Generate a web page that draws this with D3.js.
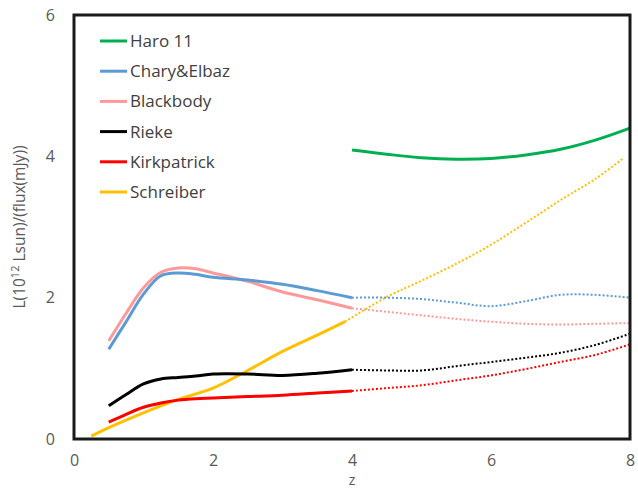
<!DOCTYPE html>
<html>
<head>
<meta charset="utf-8">
<script src="https://cdn.jsdelivr.net/npm/d3@7"></script>
<style>
  html, body { margin: 0; padding: 0; background: #fff; }
  svg { display: block; font-family: "Open Sans", "Liberation Sans", sans-serif; }
</style>
</head>
<body>
<svg id="chart" width="638" height="489"></svg>
<script>
// ---- Data ----
const seriesNames = ["Haro 11", "Chary&Elbaz", "Blackbody", "Rieke", "Kirkpatrick", "Schreiber"];
const seriesColors = ["#00B050", "#5B9BD5", "#FF9999", "#000000", "#FF0000", "#FFC000"];

const zHaro = [4, 4.5, 5, 5.5, 6, 6.5, 7, 7.5, 8];
const haro11 = [4.09, 4.03, 3.98, 3.96, 3.97, 4.02, 4.10, 4.23, 4.40];

const zSolid = [0.5, 0.75, 1, 1.25, 1.5, 1.75, 2, 2.5, 3, 3.5, 4];
const zDotted = [4, 4.5, 5, 5.5, 6, 6.5, 7, 7.5, 8];

const charySolid = [1.27, 1.66, 2.05, 2.31, 2.35, 2.33, 2.29, 2.25, 2.19, 2.10, 2.00];
const charyDotted = [2.00, 2.00, 1.98, 1.93, 1.88, 1.95, 2.04, 2.04, 2.00];

const bbSolid = [1.39, 1.78, 2.14, 2.36, 2.42, 2.41, 2.35, 2.23, 2.08, 1.97, 1.85];
const bbDotted = [1.85, 1.80, 1.75, 1.70, 1.66, 1.63, 1.62, 1.63, 1.64];

const riekeSolid = [0.47, 0.63, 0.78, 0.85, 0.87, 0.89, 0.92, 0.92, 0.90, 0.93, 0.98];
const riekeDotted = [0.98, 0.97, 0.97, 1.03, 1.09, 1.15, 1.22, 1.33, 1.49];

const kirkSolid = [0.24, 0.35, 0.45, 0.51, 0.55, 0.57, 0.58, 0.60, 0.62, 0.65, 0.68];
const kirkDotted = [0.68, 0.72, 0.76, 0.83, 0.90, 0.99, 1.09, 1.19, 1.34];

const zSchSolid = [0.25, 0.5, 1, 1.5, 2, 2.5, 3, 3.5, 3.9];
const schSolid = [0.04, 0.16, 0.37, 0.56, 0.72, 0.97, 1.24, 1.47, 1.66];
const zSchDotted = [3.9, 4.5, 5, 5.5, 6, 6.5, 7, 7.5, 7.9];
const schDotted = [1.66, 2.01, 2.24, 2.48, 2.75, 3.06, 3.38, 3.68, 3.97];

const xTicks = [0, 2, 4, 6, 8];
const yTicks = [0, 2, 4, 6];

// ---- Chart ----
const svg = d3.select("#chart");
const x = d3.scaleLinear().domain([0, 8]).range([74, 630]);
const y = d3.scaleLinear().domain([0, 6]).range([439, 15]);

const line = d3.line()
  .x(d => x(d[0]))
  .y(d => y(d[1]))
  .curve(d3.curveCatmullRom.alpha(0.5));

function zip(zs, vs) { return zs.map((z, i) => [z, vs[i]]); }

const segments = [
  { data: zip(zSchSolid, schSolid), color: seriesColors[5], dotted: false },
  { data: zip(zSchDotted, schDotted), color: seriesColors[5], dotted: true },
  { data: zip(zSolid, kirkSolid), color: seriesColors[4], dotted: false },
  { data: zip(zDotted, kirkDotted), color: seriesColors[4], dotted: true },
  { data: zip(zSolid, riekeSolid), color: seriesColors[3], dotted: false },
  { data: zip(zDotted, riekeDotted), color: seriesColors[3], dotted: true },
  { data: zip(zSolid, bbSolid), color: seriesColors[2], dotted: false },
  { data: zip(zDotted, bbDotted), color: seriesColors[2], dotted: true },
  { data: zip(zSolid, charySolid), color: seriesColors[1], dotted: false },
  { data: zip(zDotted, charyDotted), color: seriesColors[1], dotted: true },
  { data: zip(zHaro, haro11), color: seriesColors[0], dotted: false }
];

svg.append("g").selectAll("path")
  .data(segments)
  .join("path")
  .attr("d", d => line(d.data))
  .attr("fill", "none")
  .attr("stroke", d => d.color)
  .attr("stroke-width", d => d.dotted ? 2 : 3)
  .attr("stroke-dasharray", d => d.dotted ? "2,2" : null)
  .attr("stroke-linecap", "butt")
  .attr("stroke-linejoin", "round");

// Frame
svg.append("rect")
  .attr("x", x(0)).attr("y", y(6))
  .attr("width", x(8) - x(0)).attr("height", y(0) - y(6))
  .attr("fill", "none")
  .attr("stroke", "#1a1a1a")
  .attr("stroke-width", 3);

// Axes
const xAxis = svg.append("g")
  .attr("transform", `translate(0,${y(0)})`)
  .call(d3.axisBottom(x).tickValues(xTicks).tickSize(0).tickPadding(16).tickFormat(d3.format("d")));
xAxis.select(".domain").remove();
xAxis.selectAll("text").attr("fill", "#595959").style("font-size", "16px").style("font-family", "'Open Sans', sans-serif");

const yAxis = svg.append("g")
  .attr("transform", `translate(${x(0)},0)`)
  .call(d3.axisLeft(y).tickValues(yTicks).tickSize(0).tickPadding(19).tickFormat(d3.format("d")));
yAxis.select(".domain").remove();
yAxis.selectAll("text").attr("fill", "#595959").style("font-size", "16px").style("font-family", "'Open Sans', sans-serif");

// Axis titles
svg.append("text")
  .attr("x", (x(0) + x(8)) / 2).attr("y", 485)
  .attr("text-anchor", "middle")
  .attr("fill", "#595959")
  .style("font-size", "14px")
  .text("z");

const yTitle = svg.append("text")
  .attr("transform", `translate(25,${(y(0) + y(6)) / 2}) rotate(-90)`)
  .attr("text-anchor", "middle")
  .attr("fill", "#595959")
  .style("font-size", "15.5px");
yTitle.append("tspan").text("L(10");
yTitle.append("tspan").attr("dy", -6).style("font-size", "11px").text("12");
yTitle.append("tspan").attr("dy", 6).text(" Lsun)/(flux(mJy))");

// Legend
const legend = svg.append("g").selectAll("g")
  .data(seriesNames)
  .join("g")
  .attr("transform", (d, i) => `translate(100,${41 + i * 30.2})`);
legend.append("line")
  .attr("x1", 0).attr("x2", 27).attr("y1", 0).attr("y2", 0)
  .attr("stroke", (d, i) => seriesColors[i])
  .attr("stroke-width", 3);
legend.append("text")
  .attr("x", 30).attr("y", 0).attr("dy", "0.35em")
  .attr("fill", "#404040")
  .style("font-size", "17px")
  .text(d => d);
</script>
</body>
</html>
